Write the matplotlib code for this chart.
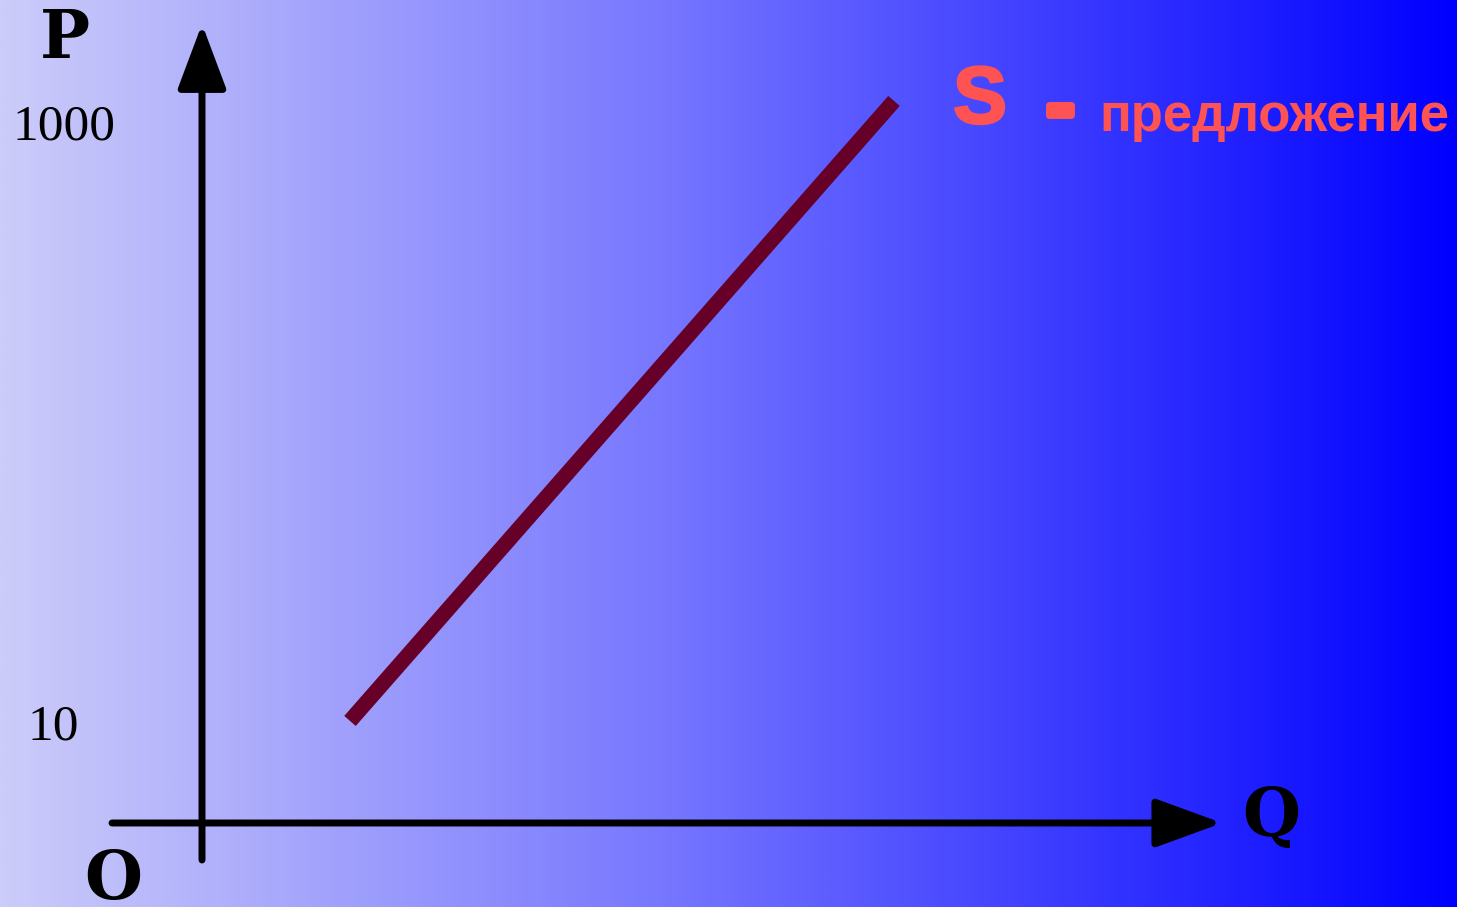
import numpy as np
import matplotlib.pyplot as plt
import matplotlib.patheffects as pe
from matplotlib.colors import LinearSegmentedColormap

# Supply curve S (schematic): quantity vs price
quantity = [1.48, 6.92]
price = [20, 1043]

# Price tick labels on the P axis
tick_values = [10, 1000]
tick_labels = ["10", "1000"]

fig = plt.figure(figsize=(14.57, 9.07), dpi=100)
ax = fig.add_axes([0, 0, 1, 1])

xmin, xmax = -2.02, 12.55
ymin, ymax = -287, 1209.55

# background gradient: lavender -> pure blue
bg = LinearSegmentedColormap.from_list(
    "bg", [(0.0, (0.80, 0.80, 0.98)), (0.45, (0.47, 0.47, 1.0)), (1.0, (0.0, 0.0, 1.0))])
grad = np.linspace(0, 1, 512).reshape(1, -1)
ax.imshow(grad, cmap=bg, extent=[xmin, xmax, ymin, ymax], aspect="auto", zorder=0)
ax.set_xlim(xmin, xmax)
ax.set_ylim(ymin, ymax)
ax.axis("off")

# axes with arrows (figure pixel coords, origin bottom-left)
H = 907
ax.annotate("", xy=(202, H - 24), xytext=(202, H - 860), xycoords="figure pixels",
            arrowprops=dict(arrowstyle="-|>,head_length=4.0,head_width=1.5",
                            mutation_scale=10, lw=5, color="black",
                            shrinkA=0, shrinkB=0))
ax.annotate("", xy=(1222, H - 823), xytext=(112, H - 823), xycoords="figure pixels",
            arrowprops=dict(arrowstyle="-|>,head_length=4.1,head_width=1.5",
                            mutation_scale=10, lw=5, color="black",
                            shrinkA=0, shrinkB=0))

# supply line
ax.plot(quantity, price, color="#660028", lw=11, solid_capstyle="butt", zorder=3)

# tick labels (left edge in data x units)
label_left = [-1.75, -1.90]
for v, lab, lx in zip(tick_values, tick_labels, label_left):
    ax.text(lx, v, lab, ha="left", va="center", fontsize=37,
            family="Liberation Serif", color="black")

# axis letters
ax.text(65, H - 40, "P", transform=None, ha="center", va="center",
        fontsize=48, fontweight="bold", family="DejaVu Serif")
ax.text(113, H - 880, "O", transform=None, ha="center", va="center",
        fontsize=48, fontweight="bold", family="DejaVu Serif")
ax.text(1271, H - 818, "Q", transform=None, ha="center", va="center",
        fontsize=48, fontweight="bold", family="DejaVu Serif")

# legend label for S
red = "#ff5252"
ax.text(980, H - 102, "S", transform=None, ha="center", va="center",
        fontsize=58, fontweight="bold", family="Liberation Sans", color=red,
        path_effects=[pe.withStroke(linewidth=2, foreground=red)])
ax.text(1060, H - 110, "-", transform=None, ha="center", va="center",
        fontsize=60, fontweight="bold", family="Liberation Sans", color=red,
        path_effects=[pe.withStroke(linewidth=5, foreground=red)])
ax.text(1099, H - 117, "предложение", transform=None, ha="left", va="center",
        fontsize=38, fontweight="bold", family="Liberation Sans", color=red)

fig.savefig("out.png", dpi=100)
